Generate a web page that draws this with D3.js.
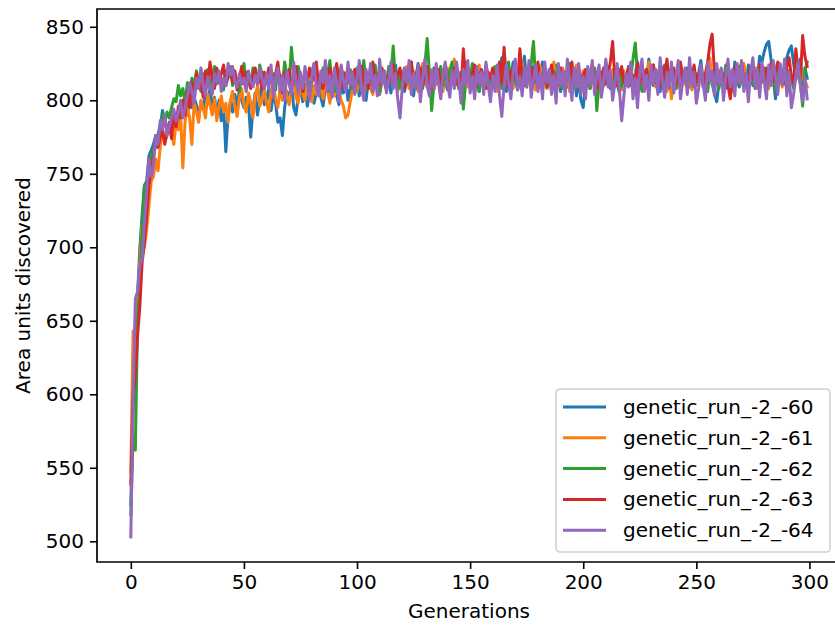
<!DOCTYPE html>
<html>
<head>
<meta charset="utf-8">
<script src="https://cdn.jsdelivr.net/npm/d3@7"></script>
<style>
  body { margin: 0; background: #fff; }
  text { font-family: "DejaVu Sans", sans-serif; fill: #000; }
</style>
</head>
<body>
<svg width="835" height="628"></svg>
<script>
const seriesNames = ['genetic_run_-2_-60', 'genetic_run_-2_-61', 'genetic_run_-2_-62', 'genetic_run_-2_-63', 'genetic_run_-2_-64'];
const colors = ['#1f77b4', '#ff7f0e', '#2ca02c', '#d62728', '#9467bd'];
const xTicks = [0, 50, 100, 150, 200, 250, 300];
const yTicks = [500, 550, 600, 650, 700, 750, 800, 850];

const run60 = [
  525,590,640,668,700,722,742,745,762,766,770,776,771,782,793,786,780,778,784,788,
  790,786,795,792,798,790,800,795,802,797,788,799,794,805,798,808,795,802,790,800,
  786,797,765,790,799,792,804,796,807,800,795,802,798,775,794,805,790,801,812,797,
  800,809,793,804,798,785,788,776,795,806,800,812,795,790,803,808,799,811,796,804,
  810,798,805,815,802,796,808,812,800,806,818,803,797,810,805,814,800,808,819,806,
  812,803,817,808,800,814,822,807,811,818,804,813,820,808,815,805,817,824,809,812,
  818,806,814,821,810,803,816,825,812,808,819,813,806,817,822,811,815,808,820,813,
  807,816,823,810,814,819,805,812,826,815,809,817,822,811,806,818,813,824,816,810,
  815,821,808,817,829,812,806,819,814,826,813,809,822,816,830,811,818,807,823,815,
  810,819,826,813,808,821,816,811,824,817,806,820,814,809,825,812,818,803,814,800,
  795,811,817,808,822,813,801,815,819,810,826,814,808,817,822,811,805,819,815,810,
  823,816,809,818,826,812,807,820,814,828,816,810,821,813,806,819,824,811,816,822,
  813,808,819,825,812,817,822,809,815,821,810,818,827,814,808,820,816,811,805,799,
  812,820,815,808,823,817,811,826,814,809,821,816,812,824,818,810,822,815,830,826,
  833,838,840,828,815,801,818,824,812,820,829,834,837,825,814,820,828,810,822,815
];
const run61 = [
  547,643,628,662,690,716,700,712,728,745,748,760,752,768,780,772,776,784,778,770,
  785,780,790,754,786,795,788,770,799,792,785,800,795,788,804,797,790,801,786,796,
  803,792,798,785,800,806,795,789,802,808,797,792,805,799,788,803,810,796,800,807,
  798,792,806,810,801,795,808,800,812,803,797,809,815,802,798,811,805,800,813,807,
  799,810,804,816,808,801,812,806,798,809,803,811,805,800,796,788,790,799,807,813,
  806,815,809,802,813,819,808,804,816,811,805,820,812,807,817,822,809,814,806,818,
  811,817,823,808,814,820,810,806,818,825,812,809,816,821,807,815,819,811,806,817,
  822,810,815,828,813,808,819,814,823,809,816,812,805,818,824,811,815,820,808,813,
  819,812,806,817,822,810,815,824,813,808,818,811,820,826,814,809,816,821,812,807,
  815,823,811,817,808,820,814,826,812,809,818,822,811,816,806,819,813,824,810,815,
  820,811,817,808,822,813,819,810,806,817,823,812,815,821,809,818,814,807,820,812,
  816,823,810,818,813,808,821,815,811,826,813,817,809,820,814,822,810,806,817,801,
  812,818,809,823,815,811,819,813,807,820,816,810,822,814,808,817,829,812,818,811,
  815,821,808,817,823,812,806,818,814,820,811,825,816,809,819,813,822,808,815,812,
  819,813,808,821,816,811,824,815,809,818,812,820,815,810,823,817,812,820,814,809
];
const run62 = [
  518,572,562,652,672,712,742,732,752,762,766,772,777,783,790,785,792,788,795,801,
  799,810,803,808,798,812,806,815,809,820,812,806,818,813,821,808,816,823,811,819,
  814,807,820,815,823,810,818,812,806,819,825,813,817,809,822,816,811,824,818,808,
  815,821,812,818,807,822,815,810,826,817,812,836,818,811,823,816,809,820,814,806,
  819,825,812,816,808,822,814,818,827,811,806,820,815,823,810,817,812,821,808,816,
  822,811,818,827,813,808,819,816,824,812,806,820,815,810,823,817,837,812,819,808,
  816,822,811,818,826,813,808,820,815,810,824,842,818,793,812,820,815,823,810,817,
  813,820,826,811,816,808,818,794,812,821,815,825,811,817,806,819,813,822,816,810,
  818,823,812,816,808,821,815,826,811,819,813,807,822,816,812,820,814,825,840,812,
  818,809,816,822,811,817,806,820,814,824,812,808,819,815,823,811,816,809,821,814,
  817,811,819,808,815,822,793,813,818,810,816,823,811,806,819,814,821,809,816,812,
  822,815,828,839,818,812,806,816,821,811,818,824,813,808,817,822,810,815,809,820,
  814,808,819,823,812,817,810,821,815,809,818,813,822,811,816,806,819,813,820,814,
  808,818,812,824,815,810,820,816,811,823,814,809,818,812,821,815,808,819,813,817,
  822,810,816,812,820,807,815,823,811,818,813,820,815,808,817,822,811,796,820,826
];
const run63 = [
  539,600,612,640,660,690,702,722,742,752,762,770,768,775,780,770,778,785,774,790,
  782,796,788,800,790,806,795,812,800,818,808,814,802,820,810,826,815,808,822,812,
  818,824,810,816,822,812,820,807,815,823,811,819,813,808,817,822,811,816,808,819,
  813,822,815,810,818,826,812,805,819,814,821,808,816,823,811,817,806,820,814,822,
  812,818,826,810,815,808,820,814,822,811,817,825,813,808,819,815,822,810,816,821,
  812,818,823,811,816,808,820,826,813,817,810,822,815,808,819,814,824,811,817,822,
  813,808,820,815,826,811,818,814,822,810,817,823,812,808,819,815,821,810,816,824,
  813,809,818,822,811,816,808,835,814,820,812,818,824,810,815,821,813,808,819,815,
  822,811,817,826,812,836,815,809,820,814,823,811,835,816,810,819,813,822,812,818,
  826,811,815,821,809,818,824,813,817,810,822,815,808,820,814,826,811,817,822,812,
  816,821,810,818,825,813,808,819,815,822,811,817,826,840,814,810,818,823,812,816,
  822,810,817,813,825,811,818,815,821,809,816,824,812,818,810,822,815,828,813,817,
  822,811,816,826,813,818,810,821,815,824,812,817,822,809,818,826,838,845,819,812,
  816,821,813,818,810,801,815,822,812,819,826,813,817,811,823,815,820,812,824,818,
  812,822,816,825,813,819,826,814,820,811,823,829,816,812,835,820,815,844,830,823
];
const run64 = [
  503,598,665,670,688,692,716,738,760,748,756,776,770,786,780,790,776,782,788,794,
  786,792,800,788,795,803,812,806,798,815,808,822,810,803,816,809,804,818,812,820,
  806,815,810,825,817,823,812,809,818,811,815,806,820,813,809,817,811,822,815,808,
  818,808,824,802,815,822,806,817,800,820,811,804,826,813,805,819,808,823,812,801,
  816,825,809,803,820,812,827,806,817,802,822,811,799,824,813,806,826,810,819,804,
  815,827,808,800,821,812,825,806,817,803,828,811,820,805,814,826,808,818,801,788,
  809,822,812,827,804,818,808,824,799,815,828,810,803,820,808,825,812,801,817,826,
  811,802,820,808,826,814,798,821,810,827,805,816,801,823,811,819,804,826,810,799,
  817,806,824,803,789,810,824,812,801,819,828,807,816,803,822,809,827,802,814,824,
  806,819,801,826,812,821,804,817,798,825,810,820,803,828,813,800,822,809,825,804,
  816,801,823,810,827,804,817,824,802,813,828,809,820,800,812,825,807,786,803,818,
  809,826,801,815,795,820,828,806,817,800,824,812,821,804,829,813,802,819,808,826,
  805,817,827,801,813,822,804,829,810,819,798,808,824,811,800,826,813,820,803,825,
  811,822,800,816,828,809,821,803,825,812,827,806,818,799,820,829,808,821,802,826,
  813,801,824,810,827,816,804,825,811,828,803,819,795,804,817,826,810,799,815,801
];

const runs = [run60, run61, run62, run63, run64];

const svg = d3.select('svg');
const plot = { left: 97, top: 9, right: 841, bottom: 562 };

// matplotlib style 5% margins around the data
const xMax = d3.max(runs, r => r.length - 1);
const xPad = xMax * 0.05;
const yMin = d3.min(runs, r => d3.min(r));
const yMaxV = d3.max(runs, r => d3.max(r));
const yPad = (yMaxV - yMin) * 0.05;

const x = d3.scaleLinear().domain([-xPad, xMax + xPad]).range([plot.left, plot.right]);
const y = d3.scaleLinear().domain([yMin - yPad, yMaxV + yPad]).range([plot.bottom, plot.top]);

svg.append('clipPath').attr('id', 'clip')
  .append('rect')
  .attr('x', plot.left).attr('y', plot.top)
  .attr('width', plot.right - plot.left).attr('height', plot.bottom - plot.top);

const line = d3.line().x((d, i) => x(i)).y(d => y(d));

svg.append('g').attr('clip-path', 'url(#clip)')
  .selectAll('path').data(runs).enter().append('path')
  .attr('d', line)
  .attr('fill', 'none')
  .attr('stroke', (d, i) => colors[i])
  .attr('stroke-width', 3)
  .attr('stroke-linejoin', 'round')
  .attr('stroke-linecap', 'square');

const xAxis = svg.append('g')
  .attr('transform', `translate(0,${plot.bottom})`)
  .call(d3.axisBottom(x).tickValues(xTicks).tickSize(7).tickPadding(6));
const yAxis = svg.append('g')
  .attr('transform', `translate(${plot.left},0)`)
  .call(d3.axisLeft(y).tickValues(yTicks).tickSize(7).tickPadding(6));

[xAxis, yAxis].forEach(g => {
  g.select('.domain').remove();
  g.selectAll('.tick line').attr('stroke', '#000').attr('stroke-width', 1.6);
  g.selectAll('.tick text').attr('font-size', 20).attr('font-family', 'DejaVu Sans');
});

// spines (left, top, bottom; the right one is outside the picture)
svg.append('path')
  .attr('d', `M${plot.right},${plot.top}H${plot.left}V${plot.bottom}H${plot.right}`)
  .attr('fill', 'none').attr('stroke', '#000').attr('stroke-width', 1.7);

svg.append('text')
  .attr('x', (plot.left + plot.right) / 2).attr('y', 618)
  .attr('text-anchor', 'middle').attr('font-size', 20)
  .text('Generations');

svg.append('text')
  .attr('transform', `translate(30,${(plot.top + plot.bottom) / 2}) rotate(-90)`)
  .attr('text-anchor', 'middle').attr('font-size', 20)
  .text('Area units discovered');

// legend
const legend = svg.append('g').attr('transform', 'translate(556,389)');
legend.append('rect')
  .attr('width', 274).attr('height', 163).attr('rx', 4)
  .attr('fill', '#fff').attr('fill-opacity', 0.8)
  .attr('stroke', '#d0d0d0').attr('stroke-width', 1.6);

const items = legend.selectAll('g.item').data(seriesNames).enter().append('g')
  .attr('class', 'item')
  .attr('transform', (d, i) => `translate(0,${18 + i * 30.8})`);
items.append('line')
  .attr('x1', 7).attr('x2', 50)
  .attr('stroke', (d, i) => colors[i]).attr('stroke-width', 3);
items.append('text')
  .attr('x', 67).attr('y', 7)
  .attr('font-size', 20)
  .text(d => d);
</script>
</body>
</html>
